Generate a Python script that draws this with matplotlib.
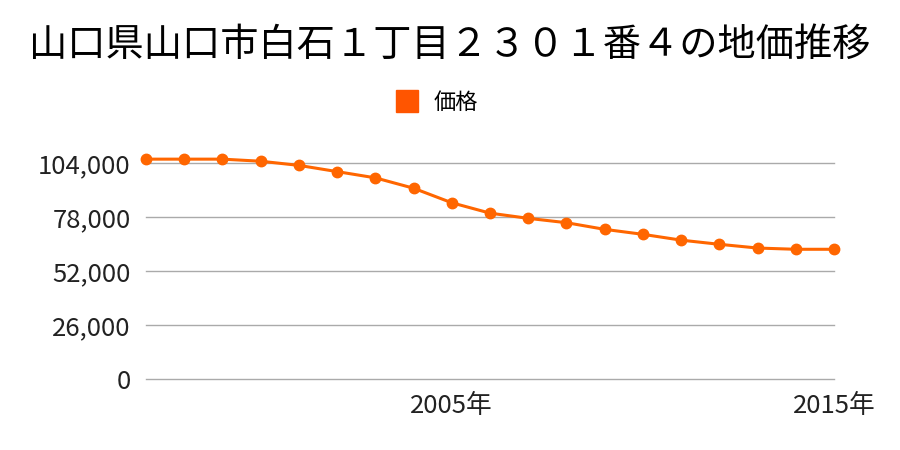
import matplotlib
matplotlib.use('Agg')
import matplotlib.pyplot as plt
import matplotlib.ticker as mticker

plt.rcParams['font.family'] = ['Noto Sans CJK JP', 'DejaVu Sans']

years = list(range(1997, 2016))
prices = [106000, 106000, 106000, 105000, 103000, 100000, 97000, 92000, 85000,
          80000, 77500, 75400, 72200, 69800, 67000, 65000, 63200, 62600, 62600]
yticks = [0, 26000, 52000, 78000, 104000]
xticks = [2005, 2015]
xlabels = ['2005年', '2015年']

fig = plt.figure(figsize=(9, 4.5), dpi=100)
ax = fig.add_axes([146/900, 1-379.3/450, (834-146)/900, (379.3-163.3)/450])

ax.plot(years, prices, color='#ff6600', lw=2.2, marker='o', ms=7.5,
        clip_on=False, zorder=3, label='価格')
ax.set_xlim(1997, 2015)
ax.set_ylim(0, 104000)
ax.set_yticks(yticks)
ax.yaxis.set_major_formatter(mticker.FuncFormatter(lambda v, p: f'{int(v):,}'))
ax.set_xticks(xticks)
ax.set_xticklabels(xlabels)
ax.grid(axis='y', color='#aaaaaa', lw=1)
for gl in ax.get_ygridlines():
    gl.set_clip_on(False)
ax.set_axisbelow(True)
for s in ax.spines.values():
    s.set_visible(False)
ax.tick_params(axis='both', length=0, labelsize=18.5, colors='#222222')
ax.tick_params(axis='y', pad=11)
ax.tick_params(axis='x', pad=10)

fig.text(0.5, 1-45/450, '山口県山口市白石１丁目２３０１番４の地価推移',
         ha='center', va='center', fontsize=27.5)
fig.legend(handles=[plt.Line2D([], [], ls='none', marker='s', ms=16, color='#ff5500')],
           labels=['価格'], loc='center', bbox_to_anchor=(0.479, 1-102/450),
           frameon=False, fontsize=16, handletextpad=0.2)

fig.savefig('out.png', dpi=100)
